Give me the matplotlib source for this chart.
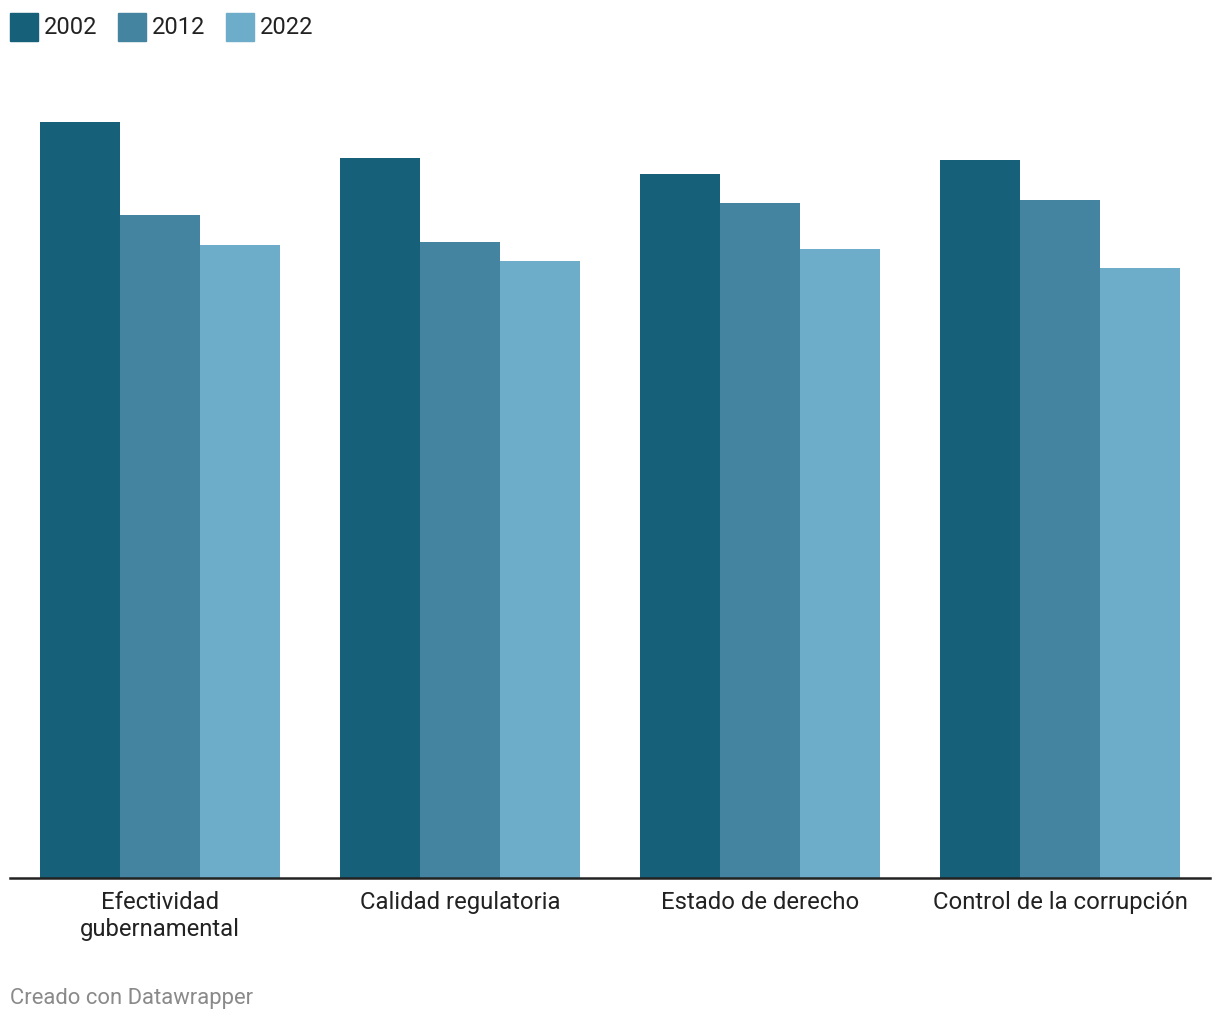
import numpy as np
import matplotlib.pyplot as plt
from matplotlib.patches import Rectangle

plt.rcParams["font.family"] = ["Roboto", "DejaVu Sans"]

categories = ["Efectividad\ngubernamental", "Calidad regulatoria",
              "Estado de derecho", "Control de la corrupción"]
years = ["2002", "2012", "2022"]
v2002 = [75.6, 72.0, 70.4, 71.8]
v2012 = [66.3, 63.6, 67.5, 67.8]
v2022 = [63.3, 61.7, 62.9, 61.0]
colors = ["#17607a", "#4584a0", "#6eadca"]

fig = plt.figure(figsize=[12.2, 10.2], dpi=100)
ax = fig.add_axes([10 / 1220, 141 / 1020, 1200 / 1220, 800 / 1020])

x = np.arange(len(categories))
w = 0.8 / 3
for i, vals in enumerate([v2002, v2012, v2022]):
    ax.bar(x + (i - 1) * w, vals, width=w, color=colors[i], linewidth=0)

ax.set_xlim(-0.5, len(categories) - 0.5)
ax.set_ylim(0, 80)
ax.set_xticks(x)
ax.set_xticklabels(categories, fontsize=17.2, color="#222222", linespacing=1.22)
ax.tick_params(axis="x", length=0, pad=9)
ax.set_yticks([])
for s in ["top", "right", "left"]:
    ax.spines[s].set_visible(False)
ax.spines["bottom"].set_linewidth(1.8)
ax.spines["bottom"].set_color("#222222")

# legend
lx = 10
for i, y in enumerate(years):
    fig.patches.append(Rectangle((lx / 1220, 1 - 42 / 1020), 28 / 1220, 28 / 1020,
                                 transform=fig.transFigure, color=colors[i]))
    fig.text((lx + 34) / 1220, 1 - 27 / 1020, y, fontsize=17,
             color="#222222", va="center", ha="left")
    lx += 108

fig.text(10 / 1220, 1 - 999 / 1020, "Creado con Datawrapper", fontsize=15.8,
         color="#8a8a8a", va="center", ha="left")

fig.savefig("out.png", dpi=100, facecolor="white")
